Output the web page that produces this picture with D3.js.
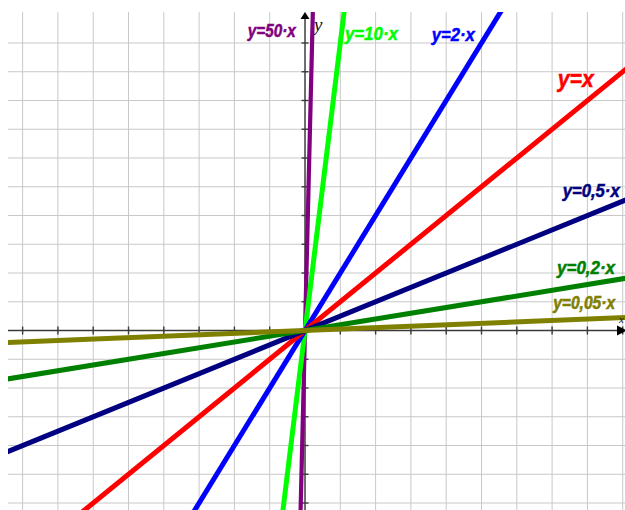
<!DOCTYPE html>
<html>
<head>
<meta charset="utf-8">
<script src="https://cdn.jsdelivr.net/npm/d3@7"></script>
<style>
html,body{margin:0;padding:0;background:#fff;}
svg{display:block;}
</style>
</head>
<body>
<script>
// ---- data ----
const slopes = [50, 10, 2, 1, 0.5, 0.2, 0.05];
const labels = ["y=50·x", "y=10·x", "y=2·x", "y=x", "y=0,5·x", "y=0,2·x", "y=0,05·x"];
const colors = ["#800080", "#00ff00", "#0000ff", "#ff0000", "#000080", "#008000", "#808000"];
const xTicks = [-8,-7,-6,-5,-4,-3,-2,-1,1,2,3,4,5,6,7,8,9];
const yTicks = [-6,-5,-4,-3,-2,-1,1,2,3,4,5,6,7,8,9,10];
// label anchors in data coordinates (left, baseline)
const labelX = [-1.62, 1.13, 3.59, 7.16, 7.30, 7.14, 7.03];
const labelY = [10.22, 10.10, 10.07, 8.47, 4.65, 1.97, 0.76];
const labelSize = [18, 18, 18, 23, 17.5, 17.5, 17.5];
const labelWidth = [48, 53, 43, 36, 57, 58, 62];

// ---- layout ----
const W = 625, H = 510;
const pLeft = 8, pTop = 12;
const x = d3.scaleLinear().domain([-8.414, 9.065]).range([pLeft, W]);
const y = d3.scaleLinear().domain([-6.243, 11.078]).range([H, pTop]);

const svg = d3.select("body").append("svg").attr("width", W).attr("height", H);

svg.append("defs").append("clipPath").attr("id", "plot")
  .append("rect").attr("x", pLeft).attr("y", pTop).attr("width", W - pLeft).attr("height", H - pTop);

// grid
const grid = svg.append("g").attr("stroke", "#c8c8c8").attr("stroke-width", 1);
grid.selectAll("line.v").data(d3.range(-8, 10)).join("line")
  .attr("x1", d => x(d)).attr("x2", d => x(d))
  .attr("y1", pTop).attr("y2", H);
grid.selectAll("line.h").data(d3.range(-6, 11)).join("line")
  .attr("y1", d => y(d)).attr("y2", d => y(d))
  .attr("x1", pLeft).attr("x2", W);

// axes
const ax = svg.append("g").attr("stroke", "#3a3a3a").attr("stroke-width", 1.4);
ax.append("line").attr("x1", pLeft).attr("x2", W - 8).attr("y1", y(0)).attr("y2", y(0));
ax.append("line").attr("x1", x(0)).attr("x2", x(0)).attr("y1", H).attr("y2", pTop + 6);
ax.selectAll("line.tx").data(xTicks).join("line")
  .attr("x1", d => x(d)).attr("x2", d => x(d))
  .attr("y1", y(0) - 4).attr("y2", y(0) + 4);
ax.selectAll("line.ty").data(yTicks).join("line")
  .attr("y1", d => y(d)).attr("y2", d => y(d))
  .attr("x1", x(0) - 3.5).attr("x2", x(0) + 3.5);
// arrowheads
svg.append("path").attr("fill", "#000")
  .attr("d", `M${x(0)},${pTop} L${x(0) - 4.5},${pTop + 7} L${x(0) + 4.5},${pTop + 7} Z`);
svg.append("path").attr("fill", "#000")
  .attr("d", `M${W + 2},${y(0)} L${W - 8},${y(0) - 5} L${W - 8},${y(0) + 5} Z`);

// y axis label
svg.append("text").attr("x", x(0) + 9).attr("y", pTop + 19)
  .attr("font-family", "Liberation Serif, DejaVu Serif, serif").attr("font-style", "italic")
  .attr("font-size", 19).attr("fill", "#111").text("y");

// lines
const [x0, x1] = x.domain();
const [y0, y1] = y.domain();
const lineGen = d3.line().x(d => x(d[0])).y(d => y(d[1]));
const lg = svg.append("g").attr("clip-path", "url(#plot)");
lg.selectAll("path").data(slopes).join("path")
  .attr("fill", "none")
  .attr("stroke", (d, i) => colors[i])
  .attr("stroke-width", (d, i) => i === 0 ? 4.2 : 5)
  .attr("d", k => {
    const a = Math.max(x0, y0 / k) - 0.2, b = Math.min(x1, y1 / k) + 0.2;
    return lineGen([[a, k * a], [b, k * b]]);
  });

// x axis label (tucked against the edge as in the reference)
svg.append("text").attr("x", W - 6).attr("y", y(0) - 8)
  .attr("font-family", "Liberation Serif, DejaVu Serif, serif").attr("font-style", "italic")
  .attr("font-size", 11).attr("fill", "#111").text("x");

// labels
svg.append("g").selectAll("text").data(labels).join("text")
  .attr("x", (d, i) => x(labelX[i]))
  .attr("y", (d, i) => y(labelY[i]))
  .attr("fill", (d, i) => colors[i])
  .attr("stroke", (d, i) => colors[i])
  .attr("stroke-width", 0.5)
  .attr("font-family", "Liberation Sans, Arial, sans-serif")
  .attr("font-weight", "bold").attr("font-style", "italic")
  .attr("font-size", (d, i) => labelSize[i])
  .attr("textLength", (d, i) => labelWidth[i])
  .attr("lengthAdjust", "spacingAndGlyphs")
  .text(d => d);
</script>
</body>
</html>
